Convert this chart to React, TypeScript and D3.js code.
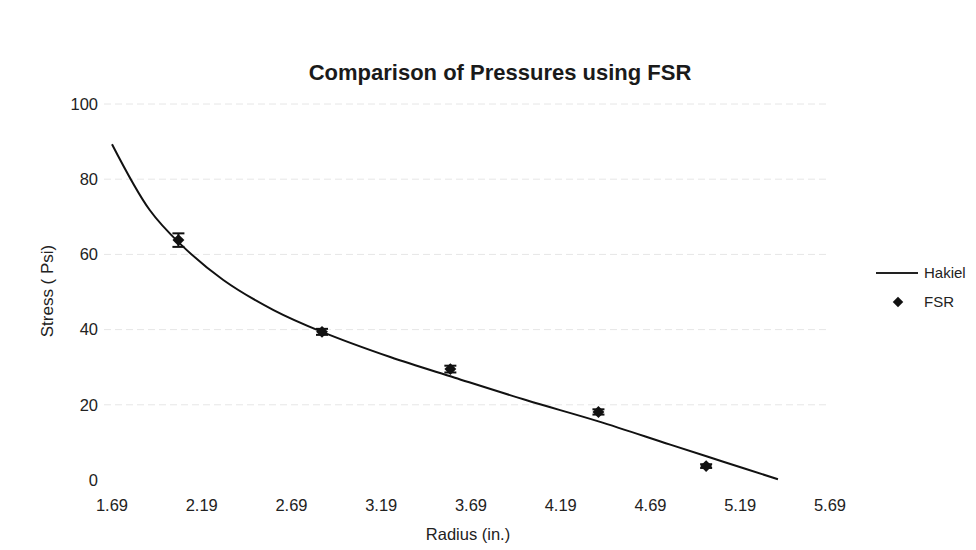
import React, { useEffect, useRef } from "react";
import * as d3 from "d3";

// Hakiel model curve (radius in inches, stress in psi)
const hakielRadius = [1.69, 1.9, 2.07, 2.31, 2.59, 2.86, 3.24, 3.6, 4.0, 4.4, 4.8, 5.1, 5.4];
const hakielStress = [89.3, 71.8, 62.8, 53.2, 45.2, 39.4, 32.7, 27.2, 21.2, 15.6, 9.4, 4.8, 0.2];

// FSR measurements with error
const fsrRadius = [2.06, 2.86, 3.575, 4.4, 5.0];
const fsrStress = [63.8, 39.4, 29.5, 18.1, 3.7];
const fsrError = [1.8, 0.8, 0.9, 0.7, 0.5];

const xTicks = [1.69, 2.19, 2.69, 3.19, 3.69, 4.19, 4.69, 5.19, 5.69];
const yTicks = [0, 20, 40, 60, 80, 100];
const legendLabels = ["Hakiel", "FSR"];

const W = 976;
const H = 550;
const FONT = "'Liberation Sans', Arial, Helvetica, sans-serif";

export default function App() {
  const ref = useRef<SVGSVGElement>(null);

  useEffect(() => {
    const svg = d3.select(ref.current);
    svg.selectAll("*").remove();

    const x = d3.scaleLinear().domain([1.69, 5.69]).range([112, 830]);
    const y = d3.scaleLinear().domain([0, 100]).range([480, 104]);

    // gridlines
    svg
      .append("g")
      .selectAll("line")
      .data(yTicks.filter((v) => v > 0))
      .join("line")
      .attr("x1", x(1.69) - 8)
      .attr("x2", x(5.69))
      .attr("y1", (d) => y(d))
      .attr("y2", (d) => y(d))
      .attr("stroke", "#e6e6e6")
      .attr("stroke-width", 1)
      .attr("stroke-dasharray", "7 4");

    // title
    svg
      .append("text")
      .attr("x", 500)
      .attr("y", 80)
      .attr("text-anchor", "middle")
      .attr("font-family", FONT)
      .attr("font-weight", "bold")
      .attr("font-size", 22)
      .attr("fill", "#1a1a1a")
      .text("Comparison of Pressures using FSR");

    // y tick labels
    svg
      .append("g")
      .selectAll("text")
      .data(yTicks)
      .join("text")
      .attr("x", 98)
      .attr("y", (d) => y(d))
      .attr("dy", "0.35em")
      .attr("text-anchor", "end")
      .attr("font-family", FONT)
      .attr("font-size", 16.5)
      .attr("fill", "#222")
      .text((d) => String(d));

    // x tick labels
    svg
      .append("g")
      .selectAll("text")
      .data(xTicks)
      .join("text")
      .attr("x", (d) => x(d))
      .attr("y", 505)
      .attr("dy", "0.35em")
      .attr("text-anchor", "middle")
      .attr("font-family", FONT)
      .attr("font-size", 16.5)
      .attr("fill", "#222")
      .text((d) => d.toFixed(2));

    // axis titles
    svg
      .append("text")
      .attr("x", 468)
      .attr("y", 540)
      .attr("text-anchor", "middle")
      .attr("font-family", FONT)
      .attr("font-size", 16.5)
      .attr("fill", "#222")
      .text("Radius (in.)");

    svg
      .append("text")
      .attr("transform", `translate(53,291) rotate(-90)`)
      .attr("text-anchor", "middle")
      .attr("font-family", FONT)
      .attr("font-size", 17)
      .attr("fill", "#222")
      .text("Stress ( Psi)");

    // Hakiel curve
    const pts: [number, number][] = hakielRadius.map((r, i) => [r, hakielStress[i]]);
    const line = d3
      .line<[number, number]>()
      .x((d) => x(d[0]))
      .y((d) => y(d[1]))
      .curve(d3.curveCatmullRom.alpha(0.5));
    svg
      .append("path")
      .datum(pts)
      .attr("d", line)
      .attr("fill", "none")
      .attr("stroke", "#111")
      .attr("stroke-width", 2);

    // FSR error bars and markers
    const fsr = fsrRadius.map((r, i) => ({ r, s: fsrStress[i], e: fsrError[i] }));
    const eb = svg.append("g").attr("stroke", "#111").attr("stroke-width", 2);
    const capW = 6;
    fsr.forEach((p) => {
      const cx = x(p.r);
      eb.append("line").attr("x1", cx).attr("x2", cx).attr("y1", y(p.s + p.e)).attr("y2", y(p.s - p.e));
      eb.append("line").attr("x1", cx - capW).attr("x2", cx + capW).attr("y1", y(p.s + p.e)).attr("y2", y(p.s + p.e));
      eb.append("line").attr("x1", cx - capW).attr("x2", cx + capW).attr("y1", y(p.s - p.e)).attr("y2", y(p.s - p.e));
    });

    const diamond = d3.symbol().type(d3.symbolDiamond2).size(90);
    svg
      .append("g")
      .selectAll("path")
      .data(fsr)
      .join("path")
      .attr("transform", (d) => `translate(${x(d.r)},${y(d.s)})`)
      .attr("d", diamond)
      .attr("fill", "#111");

    // legend
    const lg = svg.append("g").attr("font-family", FONT).attr("font-size", 15).attr("fill", "#222");
    lg.append("line").attr("x1", 876).attr("x2", 918).attr("y1", 273).attr("y2", 273).attr("stroke", "#222").attr("stroke-width", 2);
    lg.append("path").attr("transform", "translate(898,302)").attr("d", d3.symbol().type(d3.symbolDiamond2).size(70)).attr("fill", "#111");
    lg.selectAll("text")
      .data(legendLabels)
      .join("text")
      .attr("x", 924)
      .attr("y", (_d, i) => 273 + i * 29)
      .attr("dy", "0.35em")
      .text((d) => d);
  }, []);

  return (
    <svg
      ref={ref}
      width={W}
      height={H}
      style={{ position: "absolute", left: 0, top: 0, background: "#fff" }}
    />
  );
}
